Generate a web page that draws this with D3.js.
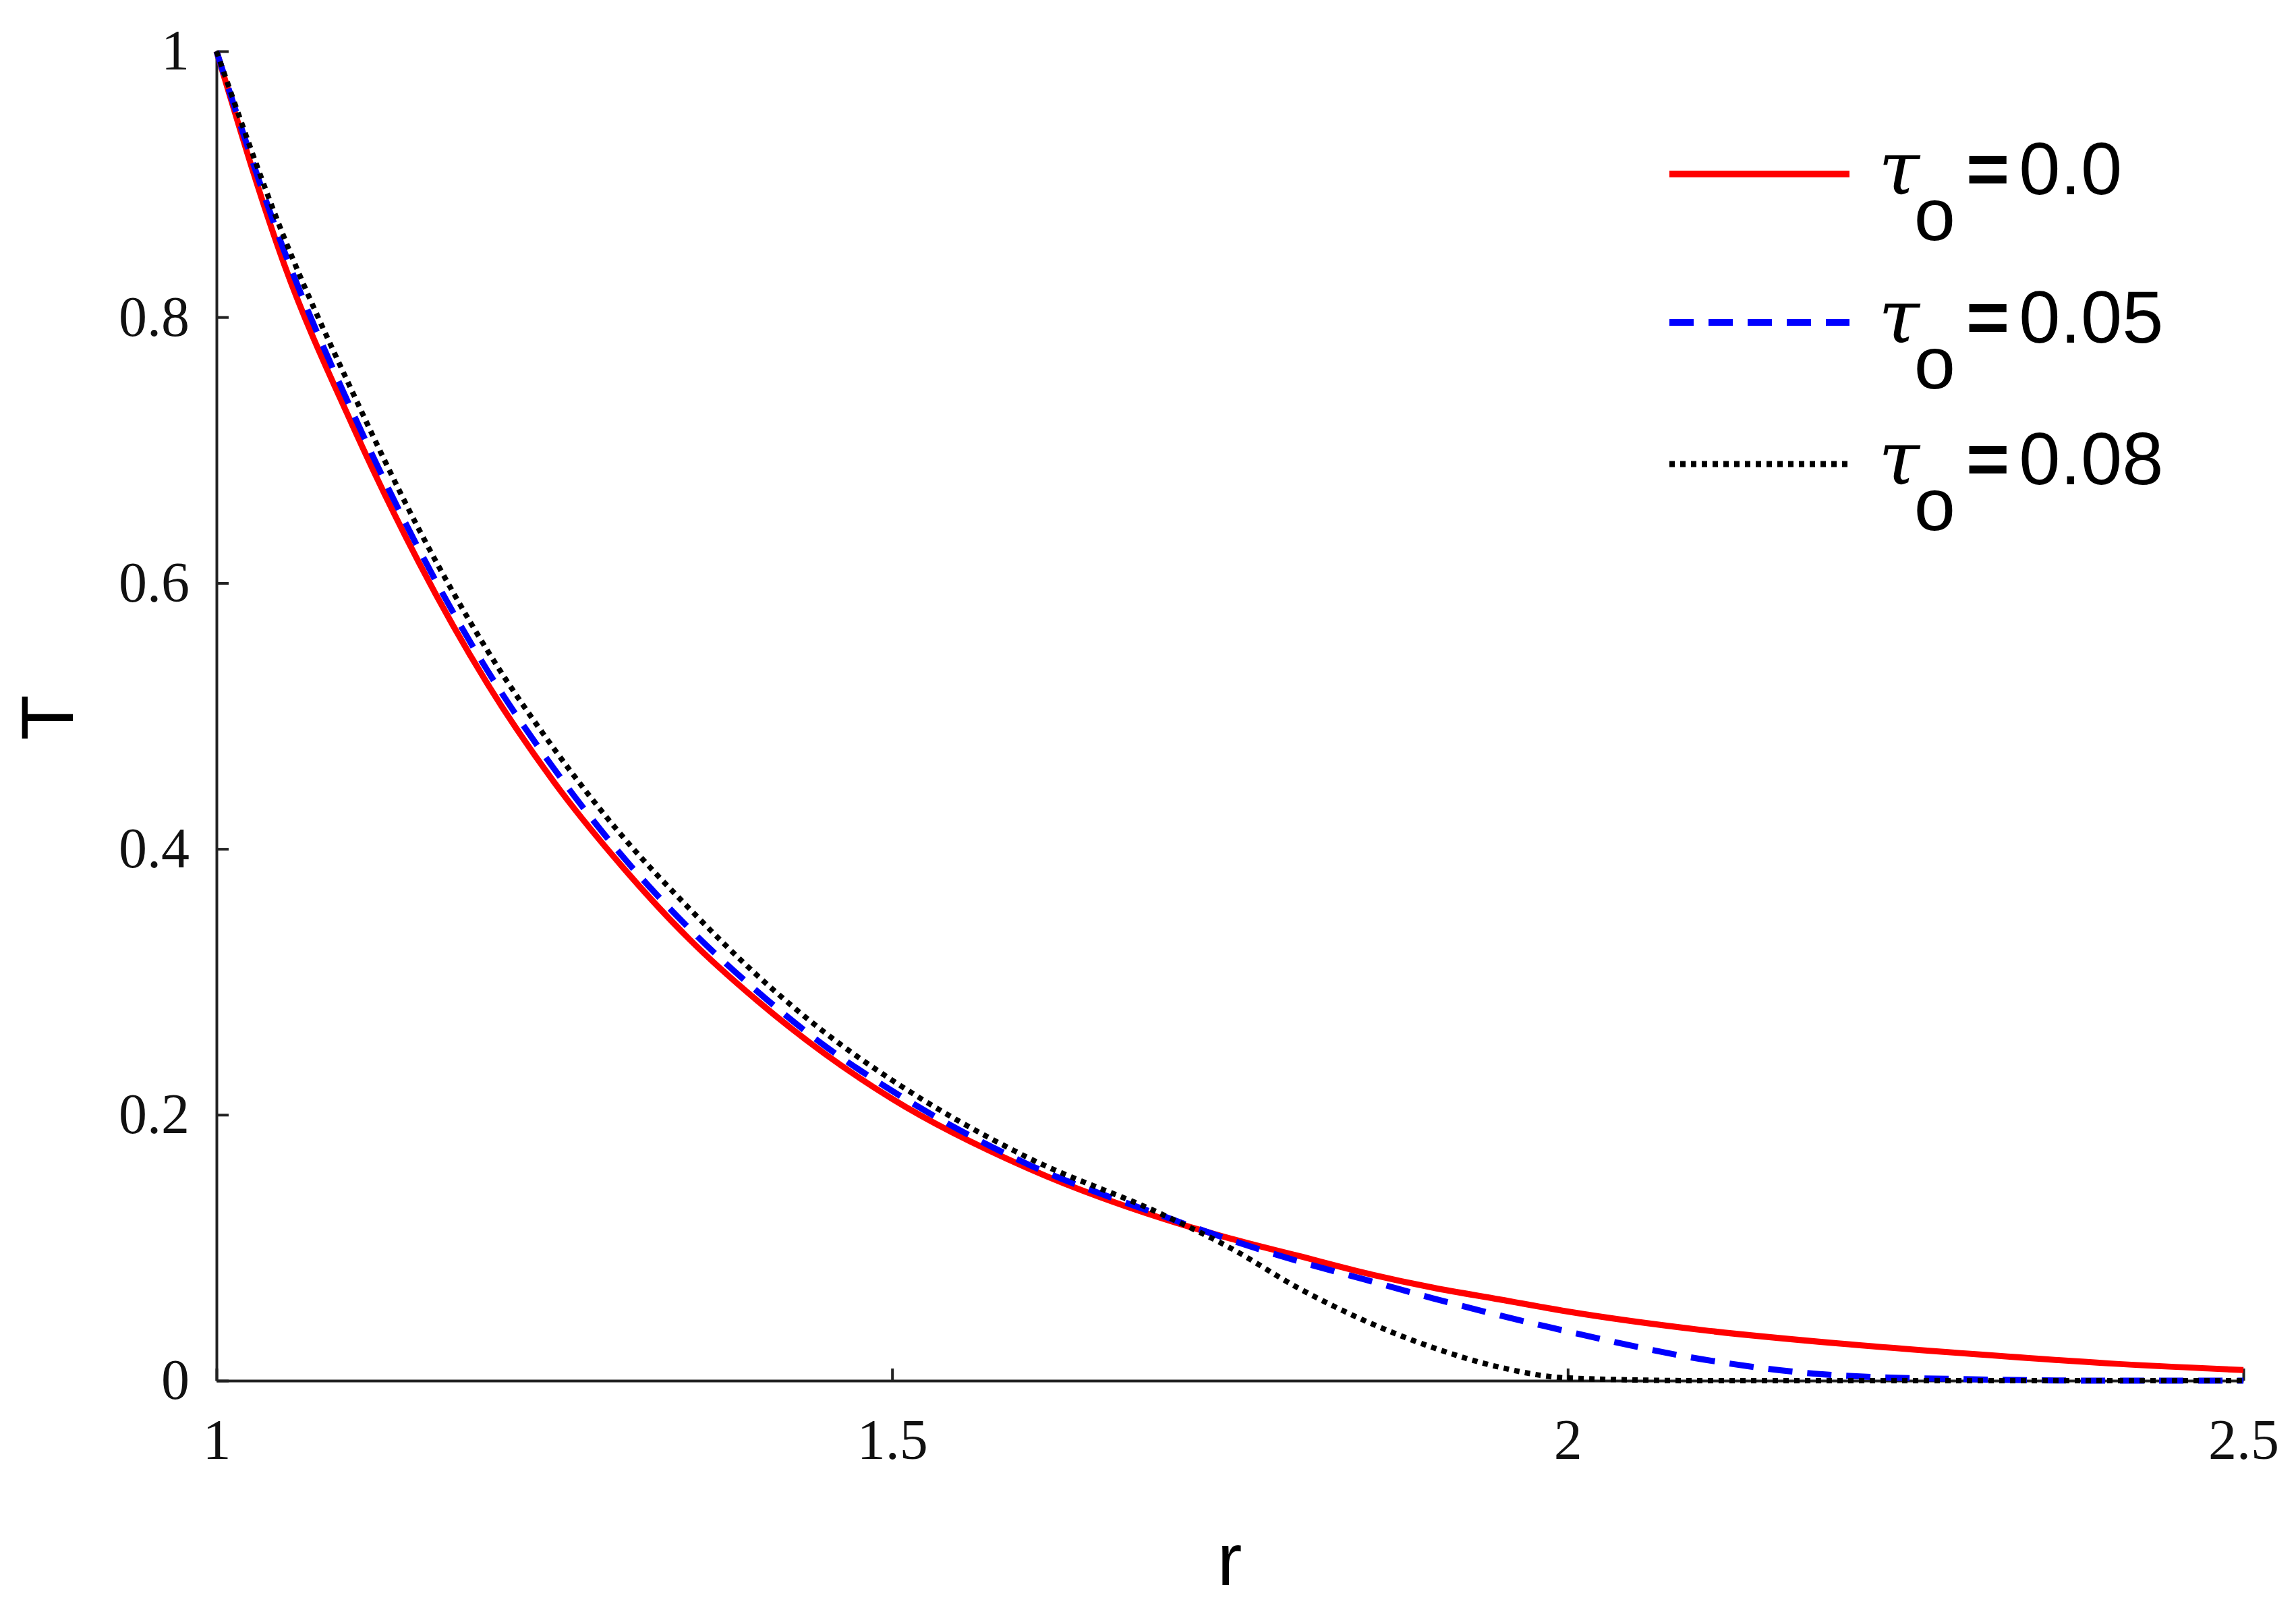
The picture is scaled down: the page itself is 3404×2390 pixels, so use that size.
<!DOCTYPE html><html><head><meta charset="utf-8"><script src="https://cdn.jsdelivr.net/npm/d3@7"></script>
<style>body{margin:0;background:#fff}</style></head><body><svg id="c" width="3404" height="2390"></svg><script>
const rVals=[1,1.05,1.1,1.15,1.2,1.25,1.3,1.35,1.4,1.45,1.5,1.6,1.7,1.75,1.8,1.85,1.9,1.95,2.0,2.1,2.2,2.3,2.4,2.5];
const tau0=[1,0.84,0.72,0.615,0.525,0.45,0.387,0.332,0.286,0.246,0.212,0.16,0.122,0.107,0.094,0.081,0.07,0.061,0.052,0.038,0.028,0.02,0.013,0.008];
const tau05=[1,0.85,0.73,0.625,0.535,0.46,0.395,0.34,0.293,0.252,0.218,0.163,0.124,0.106,0.09,0.076,0.062,0.049,0.037,0.016,0.004,0.001,0,0];
const tau08=[1,0.86,0.745,0.64,0.55,0.475,0.41,0.355,0.305,0.262,0.226,0.168,0.125,0.1,0.07,0.045,0.025,0.01,0.002,0,0,0,0,0];
const series=[{name:"0.0",vals:tau0,color:"#ff0000",dash:null,w:9},{name:"0.05",vals:tau05,color:"#0000ff",dash:"36,22",w:9},{name:"0.08",vals:tau08,color:"#000",dash:"8,8",w:8}];
const xTicks=[1,1.5,2,2.5], yTicks=[0,0.2,0.4,0.6,0.8,1];
const svg=d3.select("#c");
const x=d3.scaleLinear().domain([1,2.5]).range([321,3326]);
const y=d3.scaleLinear().domain([0,1]).range([2047,76]);
const serif="'DejaVu Serif','Liberation Serif',serif";
const ax=svg.append("g").attr("transform","translate(0,2047)").call(d3.axisBottom(x).tickValues(xTicks).tickFormat(d3.format("")).tickSizeInner(-18).tickSizeOuter(0).tickPadding(40));
const ay=svg.append("g").attr("transform","translate(321,0)").call(d3.axisLeft(y).tickValues(yTicks).tickFormat(d3.format("")).tickSizeInner(-18).tickSizeOuter(0).tickPadding(40));
[ax,ay].forEach(g=>{g.selectAll("path,line").attr("stroke","#222").attr("stroke-width",4);g.selectAll("text").attr("font-family","'Liberation Serif',serif").attr("font-size",84).attr("fill","#111");});
ax.selectAll("text").attr("dy","0.9em");
const line=d3.line().x((d,i)=>x(rVals[i])).y(d=>y(d)).curve(d3.curveMonotoneX);
series.forEach(s=>svg.append("path").attr("d",line(s.vals)).attr("fill","none").attr("stroke",s.color).attr("stroke-width",s.w).attr("stroke-dasharray",s.dash));
svg.append("text").attr("transform","translate(108,1064) rotate(-90)").attr("text-anchor","middle").attr("font-family","'Liberation Sans',Arial,sans-serif").attr("font-size",110).text("T");
svg.append("text").attr("x",1823).attr("y",2350).attr("text-anchor","middle").attr("font-family","'Liberation Sans',Arial,sans-serif").attr("font-size",110).text("r");
const ly=[258,478,688];
series.forEach((s,i)=>{
 svg.append("line").attr("x1",2475).attr("x2",2742).attr("y1",ly[i]).attr("y2",ly[i]).attr("stroke",s.color).attr("stroke-width",s.w+1).attr("stroke-dasharray",s.dash);
 const t=svg.append("text").attr("x",2785).attr("y",ly[i]+30).attr("font-family","'Liberation Sans',Arial,sans-serif").attr("font-size",110);
 t.append("tspan").attr("font-family",serif).attr("font-style","italic").attr("font-size",110).text("τ");
 t.append("tspan").attr("dy",68).attr("dx",-8).text("o");
 t.append("tspan").attr("dy",-68).attr("dx",16).attr("font-weight","bold").text("=");
 t.append("tspan").attr("dx",14).text(s.name);
});
</script></body></html>
